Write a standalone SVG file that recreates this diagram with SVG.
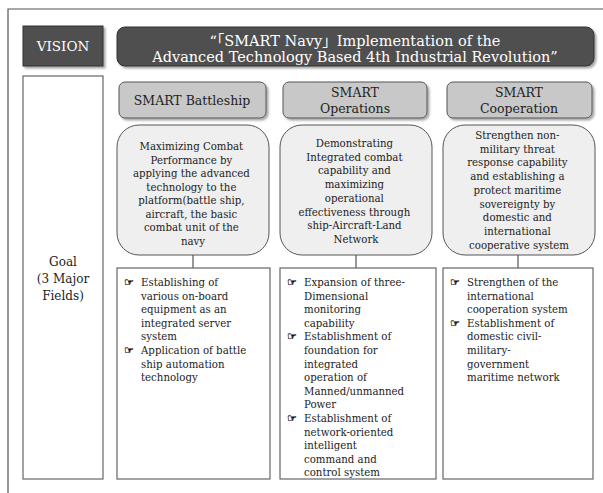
<svg xmlns="http://www.w3.org/2000/svg" width="603" height="493" viewBox="0 0 603 493">
<defs>
<filter id="sh" x="-10%" y="-10%" width="130%" height="140%">
<feDropShadow dx="2" dy="2" stdDeviation="1.2" flood-color="#000" flood-opacity="0.35"/>
</filter>
<style>
text{font-family:"DejaVu Serif","Noto Sans CJK KR",serif;fill:#222;}
.dark{fill:#505050;stroke:#333;stroke-width:1;}
.wt{fill:#fff;}
.hdr{fill:#c8c8c8;stroke:#555;stroke-width:1;}
.rnd{fill:#efefef;stroke:#555;stroke-width:1;}
.box{fill:#fff;stroke:#666;stroke-width:1.2;}
.t10{font-size:10.2px;}
.hd{font-size:12.5px;}
.bl{font-family:"DejaVu Sans",sans-serif;font-size:11px;fill:#000;stroke:#000;stroke-width:0.3;}
.conn{stroke:#333;stroke-width:1;fill:none;}
.bn{font-size:14.5px;}
</style>
</defs>
<rect width="603" height="493" fill="#fff"/>
<g id="frame"><path d="M8 493 V9 H603" fill="none" stroke="#555" stroke-width="1.2"/></g>

<g id="vision">
<rect class="dark" x="23" y="26" width="80" height="40" filter="url(#sh)"/>
<text class="wt" x="63" y="51" font-size="13.5" text-anchor="middle">VISION</text>
</g>
<g id="banner">
<rect class="dark" x="117" y="27" width="477" height="39" rx="8" filter="url(#sh)"/>
<text class="wt bn" x="355" y="46" text-anchor="middle">“「SMART Navy」Implementation of the</text>
<text class="wt bn" x="355" y="62" text-anchor="middle">Advanced Technology Based 4th Industrial Revolution”</text>
</g>
<g id="goal">
<rect x="23" y="76" width="80" height="403" fill="#fff" stroke="#666" stroke-width="1.2"/>
<text x="63" y="266" text-anchor="middle" style="font-size:12px">Goal</text>
<text x="63" y="283" text-anchor="middle" style="font-size:12px">(3 Major</text>
<text x="63" y="300" text-anchor="middle" style="font-size:12px">Fields)</text>
</g>

<g id="connectors">
<line class="conn" x1="193" y1="255" x2="193" y2="268"/>
<line class="conn" x1="356" y1="255" x2="356" y2="268"/>
<line class="conn" x1="518" y1="255" x2="518" y2="268"/>
</g>

<g id="h1">
<rect class="hdr" x="119" y="82" width="147" height="36" rx="6" filter="url(#sh)"/>
<text class="hd" x="192" y="105" text-anchor="middle">SMART Battleship</text>
</g>
<g id="h2">
<rect class="hdr" x="283" y="82" width="144" height="36" rx="6" filter="url(#sh)"/>
<text class="hd" x="355" y="97" text-anchor="middle">SMART</text>
<text class="hd" x="355" y="113" text-anchor="middle">Operations</text>
</g>
<g id="h3">
<rect class="hdr" x="447" y="82" width="145" height="36" rx="6" filter="url(#sh)"/>
<text class="hd" x="519" y="97" text-anchor="middle">SMART</text>
<text class="hd" x="519" y="113" text-anchor="middle">Cooperation</text>
</g>

<g id="r1">
<rect class="rnd" x="117" y="125" width="152" height="130" rx="22"/>
<text class="t10" text-anchor="middle">
<tspan x="193" y="150">Maximizing Combat</tspan>
<tspan x="193" y="163.5">Performance by</tspan>
<tspan x="193" y="177">applying the advanced</tspan>
<tspan x="193" y="190.5">technology to the</tspan>
<tspan x="193" y="204">platform(battle ship,</tspan>
<tspan x="193" y="217.5">aircraft, the basic</tspan>
<tspan x="193" y="231">combat unit of the</tspan>
<tspan x="193" y="244.5">navy</tspan>
</text>
</g>
<g id="r2">
<rect class="rnd" x="280" y="125" width="152" height="130" rx="22"/>
<text class="t10" text-anchor="middle">
<tspan x="356" y="147">Demonstrating</tspan>
<tspan x="356" y="160.7">Integrated combat</tspan>
<tspan x="356" y="174.4">capability and</tspan>
<tspan x="356" y="188.1">maximizing</tspan>
<tspan x="356" y="201.8">operational</tspan>
<tspan x="356" y="215.5">effectiveness through</tspan>
<tspan x="356" y="229.2">ship-Aircraft-Land</tspan>
<tspan x="356" y="242.9">Network</tspan>
</text>
</g>
<g id="r3">
<rect class="rnd" x="443" y="125" width="152" height="130" rx="22"/>
<text class="t10" text-anchor="middle">
<tspan x="519" y="139">Strengthen non-</tspan>
<tspan x="519" y="152.7">military threat</tspan>
<tspan x="519" y="166.4">response capability</tspan>
<tspan x="519" y="180.1">and establishing a</tspan>
<tspan x="519" y="193.8">protect maritime</tspan>
<tspan x="519" y="207.5">sovereignty by</tspan>
<tspan x="519" y="221.2">domestic and</tspan>
<tspan x="519" y="234.9">international</tspan>
<tspan x="519" y="248.6">cooperative system</tspan>
</text>
</g>

<g id="b1">
<rect class="box" x="117" y="268" width="153" height="211"/>
<text class="bl" x="124" y="286">☞</text>
<text class="bl" x="124" y="354">☞</text>
<text class="t10">
<tspan x="141" y="286">Establishing of</tspan>
<tspan x="141" y="299.6">various on-board</tspan>
<tspan x="141" y="313.2">equipment as an</tspan>
<tspan x="141" y="326.8">integrated server</tspan>
<tspan x="141" y="340.4">system</tspan>
<tspan x="141" y="354">Application of battle</tspan>
<tspan x="141" y="367.6">ship automation</tspan>
<tspan x="141" y="381.2">technology</tspan>
</text>
</g>
<g id="b2">
<rect class="box" x="280" y="268" width="156" height="211"/>
<text class="bl" x="287" y="286">☞</text>
<text class="bl" x="287" y="340.4">☞</text>
<text class="bl" x="287" y="422">☞</text>
<text class="t10">
<tspan x="304" y="286">Expansion of three-</tspan>
<tspan x="304" y="299.6">Dimensional</tspan>
<tspan x="304" y="313.2">monitoring</tspan>
<tspan x="304" y="326.8">capability</tspan>
<tspan x="304" y="340.4">Establishment of</tspan>
<tspan x="304" y="354">foundation for</tspan>
<tspan x="304" y="367.6">integrated</tspan>
<tspan x="304" y="381.2">operation of</tspan>
<tspan x="304" y="394.8">Manned/unmanned</tspan>
<tspan x="304" y="408.4">Power</tspan>
<tspan x="304" y="422">Establishment of</tspan>
<tspan x="304" y="435.6">network-oriented</tspan>
<tspan x="304" y="449.2">intelligent</tspan>
<tspan x="304" y="462.8">command and</tspan>
<tspan x="304" y="476.4">control system</tspan>
</text>
</g>
<g id="b3">
<rect class="box" x="443" y="268" width="150" height="211"/>
<text class="bl" x="450" y="286">☞</text>
<text class="bl" x="450" y="326.8">☞</text>
<text class="t10">
<tspan x="467" y="286">Strengthen of the</tspan>
<tspan x="467" y="299.6">international</tspan>
<tspan x="467" y="313.2">cooperation system</tspan>
<tspan x="467" y="326.8">Establishment of</tspan>
<tspan x="467" y="340.4">domestic civil-</tspan>
<tspan x="467" y="354">military-</tspan>
<tspan x="467" y="367.6">government</tspan>
<tspan x="467" y="381.2">maritime network</tspan>
</text>
</g>
</svg>
